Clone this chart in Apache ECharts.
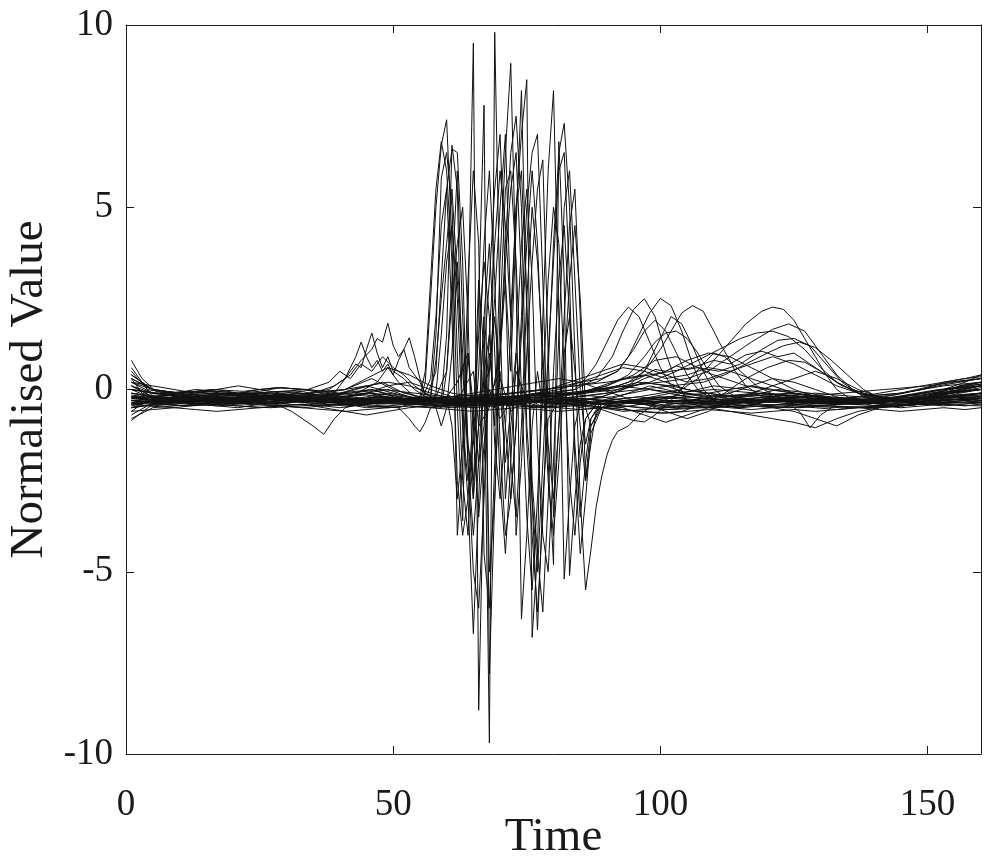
<!DOCTYPE html>
<html>
<head>
<meta charset="utf-8">
<script src="https://cdn.jsdelivr.net/npm/echarts@6/dist/echarts.min.js"></script>
<style>
  html, body { margin: 0; padding: 0; background: #fff; }
  #chart { width: 1002px; height: 860px; }
</style>
</head>
<body>
<div id="chart"></div>
<script>
// time grid shared by the quiet traces
const tQuiet = [1, 5, 9, 13, 17, 21, 25, 29, 33, 37, 41, 45, 49, 53, 57, 61, 65, 69, 73, 77,
  81, 85, 89, 93, 97, 101, 105, 109, 113, 117, 121, 125, 129, 133, 137, 141, 145, 149, 153, 157, 160];

// quiet traces, one value per tQuiet entry
const q01 = [0.6, -0.2, -0.3, -0.25, -0.3, -0.2, -0.25, -0.3, -0.35, -0.3, -0.2, -0.1, 0.0, -0.2, -0.3, -0.35, -0.3, -0.4, -0.35, -0.3,
  -0.2, -0.1, 0.1, 0.3, 0.4, 0.2, 0.0, -0.1, -0.2, -0.3, -0.25, -0.3, -0.35, -0.3, -0.4, -0.3, -0.2, -0.1, 0.0, 0.1, 0.2];
const q02 = [-0.8, -0.5, -0.45, -0.4, -0.45, -0.5, -0.4, -0.45, -0.5, -0.45, -0.4, -0.45, -0.5, -0.45, -0.5, -0.45, -0.5, -0.45, -0.4, -0.45,
  -0.5, -0.55, -0.5, -0.45, -0.5, -0.55, -0.5, -0.45, -0.5, -0.55, -0.5, -0.45, -0.5, -0.55, -0.5, -0.45, -0.5, -0.45, -0.4, -0.45, -0.4];
const q03 = [0.3, 0.0, -0.1, -0.05, 0.0, -0.1, -0.05, 0.05, 0.0, -0.1, -0.15, -0.1, -0.2, -0.3, -0.25, -0.2, -0.3, -0.25, -0.2, -0.1,
  0.0, 0.2, 0.4, 0.6, 0.5, 0.3, 0.4, 0.6, 0.5, 0.3, 0.1, -0.1, -0.2, -0.3, -0.2, -0.1, 0.0, 0.1, 0.2, 0.3, 0.35];
const q04 = [-0.3, -0.35, -0.3, -0.4, -0.35, -0.3, -0.35, -0.4, -0.3, -0.35, -0.3, -0.25, -0.3, -0.35, -0.4, -0.45, -0.4, -0.35, -0.3, -0.35,
  -0.4, -0.35, -0.3, -0.35, -0.4, -0.3, -0.35, -0.4, -0.35, -0.3, -0.35, -0.4, -0.45, -0.4, -0.35, -0.4, -0.45, -0.4, -0.35, -0.3, -0.35];
const q05 = [0.2, 0.1, 0.0, -0.1, 0.0, 0.1, 0.0, -0.1, -0.2, -0.1, 0.0, 0.3, 0.6, 0.4, 0.1, -0.1, -0.2, -0.3, -0.2, -0.1,
  -0.2, -0.3, -0.2, 0.0, 0.3, 0.5, 0.8, 1.0, 0.9, 0.6, 0.3, 0.0, -0.2, -0.3, -0.4, -0.3, -0.2, -0.1, 0.0, 0.2, 0.4];
const q06 = [-0.6, -0.55, -0.5, -0.55, -0.6, -0.55, -0.5, -0.45, -0.5, -0.55, -0.6, -0.55, -0.5, -0.45, -0.5, -0.55, -0.6, -0.55, -0.5, -0.55,
  -0.6, -0.55, -0.5, -0.55, -0.6, -0.65, -0.6, -0.55, -0.6, -0.65, -0.6, -0.55, -0.6, -0.55, -0.5, -0.55, -0.6, -0.55, -0.5, -0.55, -0.5];
const q07 = [0.0, -0.1, -0.15, -0.1, -0.05, -0.1, -0.15, -0.1, -0.05, -0.2, -0.3, -0.2, -0.1, -0.2, -0.3, -0.2, -0.1, 0.0, 0.1, 0.2,
  0.3, 0.2, 0.0, -0.2, -0.4, -0.6, -0.8, -0.6, -0.3, -0.1, 0.1, 0.3, 0.5, 0.3, 0.0, -0.2, -0.3, -0.2, -0.1, 0.0, 0.1];
const q08 = [-0.5, -0.3, -0.2, -0.3, -0.2, -0.25, -0.2, -0.15, -0.2, -0.25, -0.2, -0.15, -0.25, -0.3, -0.25, -0.2, -0.25, -0.3, -0.2, -0.15,
  -0.1, -0.15, -0.2, -0.3, -0.25, -0.2, -0.15, -0.1, 0.0, 0.1, 0.0, -0.1, -0.2, -0.25, -0.3, -0.25, -0.2, -0.1, 0.0, 0.1, 0.15];
const q09 = [-0.4, -0.45, -0.4, -0.35, -0.4, -0.45, -0.5, -0.45, -0.4, -0.5, -0.6, -0.7, -0.6, -0.5, -0.45, -0.4, -0.45, -0.4, -0.35, -0.3,
  -0.25, -0.3, -0.4, -0.5, -0.7, -0.9, -0.7, -0.5, -0.4, -0.45, -0.5, -0.6, -0.8, -1.0, -0.7, -0.5, -0.45, -0.4, -0.35, -0.3, -0.25];
const q10 = [0.4, 0.0, -0.2, -0.25, -0.2, -0.15, -0.1, -0.15, -0.2, -0.25, -0.2, -0.1, 0.1, 0.2, 0.0, -0.2, -0.3, -0.25, -0.2, -0.1,
  0.1, 0.3, 0.5, 0.7, 0.6, 0.4, 0.2, 0.3, 0.5, 0.7, 0.9, 0.7, 0.4, 0.1, -0.1, -0.2, -0.3, -0.25, -0.15, -0.05, 0.0];
const q11 = [-0.2, -0.35, -0.3, -0.25, -0.3, -0.35, -0.3, -0.25, -0.3, -0.35, -0.4, -0.35, -0.3, -0.25, -0.2, -0.25, -0.3, -0.35, -0.4, -0.35,
  -0.3, -0.25, -0.3, -0.35, -0.3, -0.25, -0.2, -0.25, -0.3, -0.35, -0.3, -0.25, -0.3, -0.35, -0.4, -0.35, -0.3, -0.25, -0.2, -0.15, -0.1];
const q12 = [-0.85, -0.4, -0.35, -0.4, -0.45, -0.4, -0.35, -0.3, -0.35, -0.4, -0.45, -0.4, -0.35, -0.3, -0.35, -0.4, -0.35, -0.3, -0.25, -0.3,
  -0.35, -0.3, -0.2, 0.0, 0.2, 0.1, -0.1, -0.2, -0.1, 0.1, 0.3, 0.2, 0.0, -0.2, -0.35, -0.4, -0.45, -0.4, -0.35, -0.3, -0.35];
const q13 = [0.1, -0.2, -0.1, 0.0, -0.05, -0.1, 0.0, 0.05, 0.0, -0.05, 0.0, 0.1, 0.2, 0.1, -0.1, -0.25, -0.3, -0.25, -0.2, -0.15,
  -0.2, -0.25, -0.3, -0.35, -0.4, -0.35, -0.3, -0.25, -0.2, -0.15, -0.2, -0.25, -0.3, -0.25, -0.2, -0.15, -0.1, 0.0, 0.2, 0.3, 0.4];
const q14 = [-0.5, -0.4, -0.35, -0.3, -0.35, -0.3, -0.2, -0.15, -0.2, -0.3, -0.4, -0.5, -0.45, -0.4, -0.45, -0.5, -0.45, -0.4, -0.45, -0.5,
  -0.45, -0.4, -0.5, -0.6, -0.55, -0.5, -0.45, -0.5, -0.6, -0.7, -0.8, -0.9, -1.05, -0.8, -0.6, -0.5, -0.45, -0.4, -0.45, -0.4, -0.35];

// traces with the big swing between t=55 and t=90, [time, value]
const w01 = [[1,-0.4],[4,-0.2],[8,-0.35],[13,-0.25],[18,-0.4],[24,-0.3],[30,-0.2],[36,-0.35],[42,-0.25],[47,-0.4],[51,-0.3],[55,-0.3],[56,0.2],[57,2.5],[58,5.0],[59,6.7],[60,7.4],[61,4.0],[62,-0.5],[63,-3.6],[64,2.0],[65,9.5],[66,-8.8],[67,-2.0],[68,1.0],[69,-0.5],[70,0.3],[72,-0.6],[75,-0.2],[78,-0.5],[82,-0.3],[88,-0.4],[94,-0.3],[100,-0.45],[107,-0.3],[114,-0.4],[121,-0.25],[128,-0.4],[136,-0.3],[144,-0.45],[152,-0.3],[160,-0.2]];
const w02 = [[1,0.3],[3,-0.1],[7,-0.3],[12,-0.2],[17,-0.3],[23,-0.15],[29,-0.25],[35,-0.3],[41,-0.2],[46,-0.1],[50,-0.3],[55,-0.4],[57,-0.2],[58,1.5],[59,5.8],[60,6.5],[61,5.0],[62,1.0],[63,-2.5],[64,-4.0],[65,-1.0],[66,3.0],[67,1.0],[68,-9.7],[69,9.8],[70,2.0],[71,-3.0],[72,-1.0],[73,0.5],[75,-0.3],[80,-0.4],[86,-0.3],[92,-0.5],[99,-0.35],[106,-0.4],[113,-0.3],[120,-0.45],[127,-0.35],[134,-0.4],[142,-0.3],[150,-0.35],[157,-0.25],[160,-0.3]];
const w03 = [[1,-0.2],[5,-0.3],[10,-0.25],[15,-0.35],[21,-0.3],[27,-0.4],[33,-0.3],[39,-0.25],[44,-0.35],[50,-0.3],[55,-0.3],[58,-0.2],[60,0.5],[61,3.0],[62,6.0],[63,2.0],[64,-1.5],[65,-3.0],[66,2.5],[67,7.8],[68,-7.8],[69,-3.0],[70,1.0],[71,3.0],[72,0.5],[73,4.5],[74,8.2],[75,2.0],[76,-3.0],[77,-6.6],[78,-3.0],[79,-0.8],[81,-0.3],[85,-0.5],[90,-0.3],[96,-0.2],[103,-0.35],[110,-0.2],[118,-0.1],[126,-0.3],[134,-0.25],[142,-0.35],[150,-0.2],[160,-0.1]];
const w04 = [[1,0.5],[4,0.0],[8,-0.1],[14,-0.2],[20,-0.1],[26,-0.2],[32,-0.1],[38,-0.2],[43,0.0],[48,0.2],[52,-0.1],[55,-0.2],[59,-0.3],[60,1.5],[61,6.7],[62,5.5],[63,-1.0],[64,-3.0],[65,-6.7],[66,-3.0],[67,0.5],[68,1.5],[69,-1.0],[70,3.5],[71,6.5],[72,8.95],[73,3.0],[74,-6.3],[75,-4.0],[76,-1.0],[77,0.5],[78,-0.5],[80,-0.2],[86,-0.4],[92,-0.2],[98,0.1],[104,-0.1],[112,-0.3],[120,-0.2],[128,-0.35],[136,-0.3],[144,-0.2],[152,0.0],[160,0.1]];
const w05 = [[1,-0.5],[6,-0.4],[11,-0.45],[16,-0.35],[22,-0.4],[28,-0.45],[34,-0.4],[40,-0.5],[45,-0.4],[50,-0.35],[55,-0.3],[60,-0.2],[62,0.2],[64,1.0],[65,-0.5],[66,-2.0],[67,-1.0],[68,1.5],[69,4.0],[70,6.0],[71,4.5],[72,2.0],[73,5.0],[74,7.0],[75,8.5],[76,-6.8],[77,-4.5],[78,2.0],[79,6.0],[80,8.2],[81,2.0],[82,-5.2],[83,-3.0],[84,-1.0],[85,-0.4],[90,-0.3],[96,-0.4],[103,-0.5],[110,-0.4],[118,-0.45],[126,-0.5],[134,-0.4],[142,-0.45],[150,-0.4],[160,-0.35]];
const w06 = [[1,0.1],[5,-0.2],[10,-0.15],[15,-0.25],[20,-0.2],[26,-0.3],[32,-0.2],[38,-0.25],[44,-0.3],[50,-0.4],[55,-0.4],[62,-0.3],[65,0.5],[66,-1.0],[68,-0.5],[70,1.0],[71,3.5],[72,5.5],[73,6.5],[74,3.0],[75,-1.5],[76,-4.0],[77,-6.1],[78,-3.5],[79,0.5],[80,4.0],[81,6.5],[82,7.3],[83,5.0],[84,1.0],[85,-3.0],[86,-5.5],[87,-4.4],[88,-3.2],[89,-2.4],[90,-1.8],[91,-1.4],[92,-1.15],[94,-1.0],[96,-0.7],[99,-0.4],[104,-0.1],[110,0.1],[116,0.0],[124,-0.2],[132,-0.3],[140,-0.35],[148,-0.3],[156,-0.2],[160,-0.2]];
const w07 = [[1,-0.6],[4,-0.3],[9,-0.4],[14,-0.3],[19,-0.35],[25,-0.25],[31,-0.3],[37,-0.2],[43,-0.3],[49,-0.25],[53,-0.3],[55,-0.2],[56,0.5],[57,3.0],[58,5.5],[59,6.8],[60,6.0],[61,3.5],[62,-4.0],[63,-2.0],[64,1.0],[65,-1.0],[66,-3.5],[67,-1.5],[68,0.0],[70,-0.8],[72,-0.3],[76,-0.5],[82,-0.3],[90,-0.4],[97,-0.3],[104,-0.4],[112,-0.25],[120,-0.35],[128,-0.3],[137,-0.4],[146,-0.3],[154,-0.2],[160,-0.25]];
const w08 = [[1,0.2],[5,0.0],[10,-0.1],[15,-0.05],[21,-0.15],[27,-0.1],[33,-0.2],[39,-0.15],[45,-0.3],[51,-0.35],[56,-0.3],[58,0.5],[59,3.0],[60,5.5],[61,6.6],[62,6.5],[63,3.5],[64,-2.0],[65,-5.0],[66,-6.0],[67,-3.0],[68,0.5],[69,2.0],[70,0.0],[71,-2.0],[72,-0.5],[73,1.0],[74,-0.3],[78,-0.5],[84,-0.3],[91,-0.2],[98,0.0],[105,-0.2],[113,-0.3],[121,-0.2],[129,-0.1],[137,-0.2],[145,-0.1],[153,0.1],[160,0.2]];
const w09 = [[1,-0.3],[6,-0.35],[12,-0.3],[18,-0.25],[24,-0.35],[30,-0.3],[36,-0.4],[42,-0.3],[48,-0.35],[55,-0.3],[65,-0.4],[68,-0.2],[70,0.5],[71,-1.0],[72,-3.0],[73,-1.0],[74,2.0],[75,5.0],[76,6.5],[77,7.0],[78,3.0],[79,-2.0],[80,-4.8],[81,6.8],[82,3.0],[83,-5.1],[84,-3.0],[85,-1.5],[86,-0.8],[88,-0.4],[94,-0.3],[100,-0.5],[107,-0.4],[115,-0.5],[123,-0.4],[131,-0.45],[139,-0.5],[147,-0.4],[155,-0.35],[160,-0.4]];
const w10 = [[1,0.0],[5,-0.25],[11,-0.2],[17,-0.3],[23,-0.25],[29,-0.2],[35,-0.3],[41,-0.35],[47,-0.25],[52,-0.3],[55,-0.3],[62,-0.4],[66,-0.2],[68,0.5],[69,2.5],[70,5.0],[71,7.0],[72,2.0],[73,-4.0],[74,-2.0],[75,1.0],[76,3.5],[77,5.5],[78,6.3],[79,1.0],[80,-3.5],[81,-1.0],[82,2.0],[83,4.5],[84,5.5],[85,2.0],[86,-2.5],[87,-1.0],[89,-0.4],[95,-0.3],[102,-0.2],[110,-0.35],[118,-0.3],[126,-0.2],[134,-0.3],[142,-0.25],[150,-0.1],[160,0.0]];
const w11 = [[1,-0.7],[4,-0.45],[9,-0.5],[15,-0.4],[21,-0.45],[27,-0.5],[33,-0.45],[39,-0.4],[45,-0.45],[51,-0.5],[55,-0.3],[60,-0.2],[61,-1.0],[62,-3.0],[63,-1.5],[64,3.0],[65,6.0],[66,4.0],[67,-4.5],[68,-6.0],[69,-2.0],[70,2.0],[71,5.5],[72,6.0],[73,3.5],[74,0.0],[75,-3.5],[76,-5.5],[77,-3.0],[78,0.0],[79,3.0],[80,5.0],[81,4.0],[82,0.5],[83,-2.5],[84,-4.0],[85,-2.0],[86,-0.8],[88,-0.4],[95,-0.3],[102,-0.45],[110,-0.5],[118,-0.4],[126,-0.45],[134,-0.5],[142,-0.45],[150,-0.4],[160,-0.45]];
const w12 = [[1,0.4],[5,0.0],[10,-0.1],[16,0.0],[22,-0.05],[28,0.05],[34,0.0],[40,-0.1],[46,0.0],[51,-0.2],[55,-0.4],[57,0.3],[58,2.0],[59,4.5],[60,5.5],[61,2.0],[62,-2.5],[63,-4.0],[64,-3.0],[65,-0.5],[66,1.5],[67,3.5],[68,2.0],[69,-1.5],[70,-3.0],[71,-1.0],[72,1.5],[73,5.0],[74,6.0],[75,2.5],[76,-2.5],[77,-4.5],[78,-6.1],[79,-3.0],[80,0.5],[81,3.0],[82,4.5],[83,2.0],[84,-1.5],[85,-3.5],[86,-2.0],[87,-0.8],[89,-0.4],[95,-0.3],[102,-0.1],[110,0.0],[118,-0.1],[126,-0.2],[134,-0.1],[142,0.0],[150,0.1],[160,0.3]];
const w13 = [[1,-0.2],[6,-0.3],[12,-0.35],[18,-0.3],[24,-0.4],[30,-0.35],[36,-0.3],[42,-0.4],[48,-0.35],[53,-0.3],[56,-0.3],[59,-0.5],[60,0.5],[61,2.5],[62,4.0],[63,5.0],[64,2.0],[65,-3.0],[66,-1.0],[67,2.0],[68,4.0],[69,1.0],[70,-2.5],[71,-4.5],[72,-2.0],[73,1.0],[74,4.0],[75,5.5],[76,3.0],[77,-1.5],[78,-4.0],[79,-5.0],[80,-2.0],[81,1.5],[82,5.0],[83,6.0],[84,3.0],[85,0.0],[86,-1.5],[87,-0.8],[89,-0.3],[96,-0.4],[104,-0.3],[112,-0.35],[120,-0.3],[128,-0.4],[136,-0.35],[144,-0.3],[152,-0.25],[160,-0.3]];
const w14 = [[1,-0.1],[5,-0.2],[11,-0.3],[17,-0.2],[23,-0.3],[29,-0.25],[35,-0.35],[41,-0.3],[47,-0.2],[52,-0.25],[55,-0.2],[58,-0.5],[59,-1.0],[60,-0.5],[61,1.0],[62,3.5],[63,1.0],[64,-2.0],[65,-4.0],[66,-2.0],[67,1.0],[68,3.0],[69,5.5],[70,7.0],[71,3.0],[72,-2.0],[73,-3.5],[74,-1.0],[75,2.5],[76,5.0],[77,3.5],[78,1.0],[79,-1.5],[80,-3.0],[81,-1.0],[82,1.0],[83,2.0],[84,0.5],[85,-1.0],[86,-2.5],[87,-1.5],[88,-0.6],[90,-0.4],[97,-0.3],[105,-0.2],[113,-0.3],[121,-0.25],[129,-0.35],[137,-0.3],[145,-0.2],[153,-0.1],[160,0.0]];
const w15 = [[1,-0.35],[7,-0.3],[14,-0.4],[21,-0.3],[28,-0.35],[35,-0.3],[42,-0.4],[49,-0.3],[55,-0.35],[57,-0.2],[58,0.8],[59,2.5],[60,4.0],[61,5.5],[62,3.0],[63,0.5],[64,-1.5],[65,-2.5],[66,-1.0],[67,2.0],[68,-5.0],[69,-3.0],[70,1.0],[71,4.0],[72,6.5],[73,7.5],[74,5.0],[75,-1.0],[76,-3.0],[77,-5.0],[78,-2.0],[79,1.0],[80,3.5],[81,6.0],[82,6.5],[83,3.0],[84,-2.0],[85,-4.5],[86,-3.0],[87,-1.2],[89,-0.5],[95,-0.35],[103,-0.3],[111,-0.4],[119,-0.3],[127,-0.35],[135,-0.3],[143,-0.4],[151,-0.3],[160,-0.25]];
const w16 = [[1,-0.15],[6,-0.25],[13,-0.2],[20,-0.3],[27,-0.2],[34,-0.25],[41,-0.3],[48,-0.2],[54,-0.3],[57,-0.4],[58,-0.1],[59,1.5],[60,3.5],[61,4.5],[62,2.5],[63,-1.0],[64,-2.5],[65,-1.5],[66,0.5],[67,4.0],[68,6.0],[69,3.0],[70,-1.5],[71,-4.0],[72,-3.0],[73,-1.0],[74,1.5],[75,4.0],[76,6.0],[77,4.0],[78,0.5],[79,-2.5],[80,-4.0],[81,-2.0],[82,0.5],[83,3.0],[84,4.5],[85,2.5],[86,-0.5],[87,-1.0],[89,-0.5],[96,-0.3],[104,-0.4],[112,-0.3],[120,-0.35],[128,-0.3],[136,-0.25],[144,-0.3],[152,-0.2],[160,-0.15]];

// traces with the later humps (t=90..135), [time, value]
const h01 = [[1,-0.1],[5,-0.2],[10,-0.15],[16,-0.25],[22,-0.2],[28,-0.3],[34,-0.2],[40,-0.1],[45,0.1],[50,-0.1],[56,-0.3],[62,-0.4],[68,-0.3],[74,-0.2],[80,-0.1],[84,0.0],[86,0.3],[88,0.7],[90,1.3],[92,1.9],[94,2.26],[96,2.0],[98,1.3],[100,0.6],[102,0.1],[105,-0.2],[110,-0.3],[116,-0.2],[122,0.0],[128,-0.1],[134,-0.3],[140,-0.35],[146,-0.3],[152,-0.2],[156,0.0],[160,0.1]];
const h02 = [[1,-0.3],[6,-0.35],[12,-0.3],[18,-0.35],[24,-0.3],[30,-0.25],[36,-0.3],[42,-0.2],[47,0.2],[49,0.6],[51,0.2],[54,-0.2],[60,-0.4],[66,-0.3],[72,-0.2],[78,-0.1],[84,0.0],[88,0.3],[91,0.9],[93,1.6],[95,2.2],[97,2.49],[99,2.0],[101,1.0],[103,0.2],[105,-0.3],[108,-0.5],[112,-0.4],[118,-0.3],[124,-0.1],[130,-0.2],[136,-0.35],[142,-0.3],[148,-0.2],[154,0.0],[160,0.1]];
const h03 = [[1,0.0],[5,-0.1],[11,-0.15],[17,-0.1],[23,-0.2],[29,-0.15],[35,-0.1],[41,0.0],[46,0.3],[50,0.0],[55,-0.2],[61,-0.3],[67,-0.2],[73,-0.1],[79,0.0],[85,0.2],[89,0.3],[92,0.5],[94,0.9],[96,1.5],[98,2.1],[100,2.5],[102,2.3],[104,1.6],[106,0.7],[108,0.0],[111,-0.4],[115,-0.5],[120,-0.3],[126,-0.2],[132,-0.3],[138,-0.4],[144,-0.3],[150,-0.2],[156,0.1],[160,0.2]];
const h04 = [[1,-0.2],[6,-0.3],[12,-0.25],[18,-0.3],[24,-0.2],[30,-0.25],[36,-0.3],[42,-0.25],[48,-0.3],[54,-0.35],[60,-0.3],[66,-0.25],[72,-0.2],[78,-0.1],[84,-0.1],[90,0.0],[94,0.2],[97,0.5],[100,1.1],[102,1.6],[104,2.1],[106,2.3],[108,2.15],[110,1.6],[111,1.3],[113,0.8],[114,0.5],[116,0.1],[119,-0.2],[124,-0.35],[130,-0.3],[136,-0.4],[142,-0.35],[148,-0.3],[154,-0.1],[160,0.0]];
const h05 = [[1,-0.4],[6,-0.3],[12,-0.35],[18,-0.25],[24,-0.3],[30,-0.35],[36,-0.3],[42,-0.25],[48,-0.3],[54,-0.4],[60,-0.45],[66,-0.4],[72,-0.35],[78,-0.3],[84,-0.25],[90,-0.3],[96,-0.2],[100,-0.1],[104,0.0],[107,0.3],[110,0.8],[113,1.3],[116,1.8],[119,2.15],[121,2.26],[123,2.2],[125,1.9],[127,1.4],[129,0.9],[131,0.4],[133,0.0],[136,-0.3],[140,-0.45],[146,-0.4],[152,-0.3],[160,-0.25]];
const h06 = [[1,0.2],[5,-0.1],[10,-0.2],[16,-0.15],[22,-0.1],[28,-0.2],[34,-0.15],[40,-0.2],[46,-0.1],[52,-0.2],[58,-0.3],[64,-0.25],[70,-0.2],[76,-0.15],[82,-0.1],[88,0.0],[94,0.1],[100,0.2],[105,0.3],[109,0.5],[113,0.9],[117,1.3],[121,1.65],[124,1.8],[127,1.6],[130,1.0],[133,0.4],[136,0.0],[140,-0.2],[146,-0.3],[152,-0.2],[156,0.1],[160,0.2]];
const h07 = [[1,-0.3],[6,-0.25],[12,-0.3],[18,-0.2],[24,-0.25],[30,-0.3],[36,-0.2],[42,-0.1],[46,0.0],[50,-0.2],[56,-0.35],[62,-0.3],[68,-0.25],[74,-0.2],[80,-0.15],[86,-0.1],[92,0.0],[98,0.2],[103,0.5],[107,0.8],[111,1.1],[115,1.4],[118,1.55],[121,1.6],[124,1.45],[127,1.1],[130,0.6],[133,0.2],[137,-0.1],[142,-0.3],[148,-0.35],[154,-0.2],[160,-0.1]];
const h08 = [[1,-0.5],[6,-0.4],[12,-0.45],[18,-0.4],[24,-0.35],[30,-0.4],[36,-0.45],[42,-0.4],[48,-0.35],[54,-0.4],[60,-0.45],[66,-0.4],[72,-0.35],[78,-0.3],[84,-0.2],[90,-0.1],[96,0.0],[102,0.1],[108,0.2],[112,0.4],[116,0.7],[120,1.0],[123,1.2],[126,1.3],[129,1.15],[132,0.8],[135,0.4],[138,0.0],[142,-0.3],[148,-0.4],[154,-0.3],[160,-0.2]];
const h09 = [[1,-0.2],[6,-0.15],[12,-0.2],[18,-0.1],[24,-0.15],[30,-0.2],[36,-0.15],[42,-0.2],[48,-0.3],[54,-0.25],[60,-0.3],[66,-0.2],[72,-0.1],[78,0.0],[84,0.1],[88,0.2],[92,0.5],[95,1.1],[97,1.6],[99,1.9],[101,1.6],[103,1.0],[105,0.4],[107,0.0],[110,-0.3],[114,-0.5],[118,-0.4],[124,-0.2],[130,-0.25],[136,-0.3],[142,-0.2],[148,0.0],[154,0.2],[160,0.3]];
const h10 = [[1,0.3],[5,0.0],[10,-0.1],[16,-0.2],[22,-0.15],[28,-0.2],[34,-0.3],[40,-0.35],[46,-0.3],[52,-0.25],[58,-0.3],[64,-0.35],[70,-0.3],[76,-0.35],[82,-0.4],[88,-0.5],[92,-0.7],[95,-0.85],[97,-0.89],[99,-0.7],[102,-0.3],[105,0.2],[108,0.7],[110,1.0],[112,0.9],[115,0.5],[118,0.1],[122,-0.2],[126,-0.6],[128,-1.05],[130,-0.7],[133,-0.4],[138,-0.3],[144,-0.35],[150,-0.2],[156,0.0],[160,0.1]];
const h11 = [[1,-0.1],[6,-0.2],[12,-0.3],[18,-0.25],[24,-0.3],[30,-0.2],[36,-0.25],[42,-0.3],[48,-0.2],[54,-0.3],[60,-0.35],[66,-0.3],[72,-0.25],[78,-0.2],[84,-0.1],[90,0.1],[95,0.4],[99,0.8],[103,0.9],[107,0.6],[111,0.5],[115,0.7],[119,1.1],[122,1.35],[125,1.4],[128,1.2],[131,0.7],[134,0.2],[138,-0.2],[144,-0.35],[150,-0.3],[156,-0.1],[160,0.0]];
const h12 = [[1,-0.4],[6,-0.35],[12,-0.3],[18,-0.35],[24,-0.4],[30,-0.35],[36,-0.3],[42,-0.35],[48,-0.4],[54,-0.35],[60,-0.3],[66,-0.35],[72,-0.3],[78,-0.2],[84,-0.1],[88,0.0],[92,0.1],[96,0.3],[99,0.55],[101,0.5],[103,0.65],[105,0.55],[107,0.6],[109,0.45],[112,0.3],[116,0.1],[120,0.0],[125,-0.1],[130,-0.2],[136,-0.3],[142,-0.4],[148,-0.35],[154,-0.2],[160,-0.1]];
const h13 = [[1,-0.25],[7,-0.3],[13,-0.2],[19,-0.3],[25,-0.25],[31,-0.3],[37,-0.35],[43,-0.3],[49,-0.25],[55,-0.3],[61,-0.35],[67,-0.3],[73,-0.25],[79,-0.2],[85,-0.1],[90,0.1],[94,0.4],[97,0.9],[99,1.3],[101,1.55],[103,1.6],[105,1.4],[107,1.0],[109,0.5],[111,0.1],[114,-0.2],[118,-0.3],[124,-0.25],[130,-0.3],[136,-0.35],[142,-0.3],[148,-0.25],[154,-0.1],[160,0.0]];
const h14 = [[1,-0.35],[7,-0.4],[14,-0.3],[21,-0.35],[28,-0.4],[35,-0.3],[42,-0.35],[49,-0.3],[55,-0.4],[61,-0.35],[67,-0.3],[73,-0.35],[79,-0.25],[85,-0.2],[90,-0.1],[94,0.1],[97,0.5],[99,1.1],[101,1.7],[102,2.0],[104,1.8],[106,1.2],[108,0.5],[110,0.0],[113,-0.3],[117,-0.4],[122,-0.3],[128,-0.35],[134,-0.4],[140,-0.35],[146,-0.3],[152,-0.15],[160,0.05]];
const h15 = [[1,-0.25],[6,-0.2],[12,-0.25],[18,-0.15],[24,-0.2],[30,-0.25],[36,-0.2],[42,-0.3],[48,-0.2],[54,-0.25],[60,-0.2],[66,-0.15],[72,-0.1],[78,0.0],[84,0.1],[90,0.2],[96,0.35],[102,0.5],[106,0.6],[110,0.8],[113,0.7],[116,0.95],[119,1.05],[122,0.9],[125,1.0],[128,0.7],[131,0.4],[134,0.1],[138,-0.1],[143,-0.25],[148,-0.2],[154,0.0],[160,0.15]];
const h16 = [[1,0.0],[6,-0.1],[12,-0.05],[18,-0.15],[24,-0.1],[30,-0.05],[36,-0.15],[42,-0.1],[48,0.0],[54,-0.1],[60,-0.2],[66,-0.15],[72,-0.2],[78,-0.3],[84,-0.4],[90,-0.5],[96,-0.6],[100,-0.65],[104,-0.6],[108,-0.4],[112,-0.1],[116,0.3],[120,0.6],[124,0.8],[127,0.75],[130,0.5],[133,0.2],[137,-0.1],[142,-0.3],[148,-0.35],[154,-0.25],[160,-0.1]];

// traces with small bumps or dips before the swing, [time, value]
const c01 = [[1,-0.2],[6,-0.25],[12,-0.2],[18,-0.3],[24,-0.25],[30,-0.2],[35,-0.1],[39,0.1],[42,0.4],[44,0.8],[46,1.1],[47,1.4],[48,1.3],[49,1.82],[50,1.2],[51,0.9],[52,1.1],[53,0.6],[54,0.4],[55,0.2],[56,-0.1],[58,-0.3],[64,-0.4],[70,-0.35],[76,-0.3],[82,-0.4],[88,-0.35],[94,-0.3],[100,-0.2],[106,-0.3],[114,-0.35],[122,-0.3],[130,-0.4],[138,-0.35],[146,-0.3],[154,-0.2],[160,-0.15]];
const c02 = [[1,0.1],[5,-0.1],[11,-0.15],[17,-0.1],[23,-0.2],[29,-0.15],[34,-0.1],[38,0.0],[41,0.3],[43,0.7],[44,0.6],[45,1.1],[46,1.55],[47,1.0],[48,0.6],[49,0.9],[50,0.5],[52,0.3],[54,0.0],[56,-0.2],[60,-0.3],[66,-0.2],[72,-0.25],[78,-0.2],[84,-0.1],[90,0.0],[96,0.2],[102,0.1],[108,-0.1],[116,-0.2],[124,-0.1],[132,-0.2],[140,-0.3],[148,-0.2],[156,0.0],[160,0.1]];
const c03 = [[1,-0.45],[6,-0.3],[12,-0.35],[18,-0.3],[24,-0.35],[30,-0.3],[36,-0.25],[39,-0.1],[41,0.3],[43,0.9],[44,1.3],[45,0.9],[46,0.6],[47,0.8],[48,0.5],[49,0.7],[50,0.4],[51,0.8],[52,1.1],[53,1.42],[54,0.9],[55,0.3],[56,-0.2],[58,-0.4],[64,-0.3],[70,-0.4],[76,-0.35],[82,-0.3],[88,-0.4],[94,-0.35],[102,-0.3],[110,-0.4],[118,-0.35],[126,-0.3],[134,-0.4],[142,-0.3],[150,-0.25],[160,-0.2]];
const c04 = [[1,-0.3],[6,-0.35],[12,-0.3],[18,-0.4],[24,-0.35],[28,-0.4],[31,-0.6],[33,-0.8],[35,-1.0],[37,-1.23],[39,-0.8],[41,-0.5],[44,-0.4],[48,-0.45],[51,-0.5],[53,-0.8],[54,-1.0],[55,-1.16],[56,-0.9],[57,-0.5],[60,-0.4],[66,-0.45],[72,-0.4],[78,-0.5],[84,-0.45],[90,-0.4],[96,-0.5],[102,-0.55],[108,-0.5],[116,-0.45],[124,-0.5],[132,-0.45],[140,-0.5],[148,-0.4],[156,-0.35],[160,-0.3]];
const c05 = [[1,0.8],[3,0.3],[6,-0.1],[11,-0.2],[17,-0.15],[23,-0.1],[29,-0.05],[34,0.0],[38,0.2],[40,0.5],[42,0.3],[44,0.7],[46,0.5],[48,0.9],[50,0.6],[52,0.4],[54,0.1],[57,-0.2],[62,-0.3],[68,-0.25],[74,-0.3],[80,-0.2],[86,-0.1],[92,0.1],[98,0.0],[104,-0.1],[112,-0.2],[120,-0.1],[128,-0.2],[136,-0.25],[144,-0.15],[152,0.1],[160,0.3]];

const xTicks = [0, 50, 100, 150];
const yTicks = [-10, -5, 0, 5, 10];

const quiet = [q01, q02, q03, q04, q05, q06, q07, q08, q09, q10, q11, q12, q13, q14];
const paired = [w01, w02, w03, w04, w05, w06, w07, w08, w09, w10, w11, w12, w13, w14, w15, w16,
  h01, h02, h03, h04, h05, h06, h07, h08, h09, h10, h11, h12, h13, h14, h15, h16,
  c01, c02, c03, c04, c05];

const traces = quiet.map(v => v.map((y, i) => [tQuiet[i], y])).concat(paired);

const FONT = "'Liberation Serif', 'Times New Roman', serif";
const INK = '#1a1a1a';

const myChart = echarts.init(document.getElementById('chart'), null, { renderer: 'canvas' });

const tickStyle = { inside: true, length: 8, lineStyle: { color: INK, width: 1 } };
const lineStyle = { show: true, onZero: false, lineStyle: { color: INK, width: 1 } };

const option = {
  animation: false,
  backgroundColor: '#fff',
  grid: { left: 126, right: 21, top: 25, bottom: 106, outerBoundsMode: 'none', containLabel: false },
  xAxis: [
    {
      type: 'value', min: 0, max: 160, interval: 50, position: 'bottom',
      axisLine: lineStyle, axisTick: tickStyle, splitLine: { show: false },
      axisLabel: {
        fontFamily: FONT, fontSize: 37, color: INK, margin: 33,
        formatter: v => (xTicks.includes(v) ? String(v) : '')
      },
      name: 'Time', nameLocation: 'middle', nameGap: 60, nameMoveOverlap: false,
      nameTextStyle: { fontFamily: FONT, fontSize: 47, color: INK }
    },
    {
      type: 'value', min: 0, max: 160, interval: 50, position: 'top',
      axisLine: lineStyle, axisTick: tickStyle, splitLine: { show: false },
      axisLabel: { show: false }
    }
  ],
  yAxis: [
    {
      type: 'value', min: -10, max: 10, interval: 5, position: 'left',
      axisLine: lineStyle, axisTick: tickStyle, splitLine: { show: false },
      axisLabel: {
        fontFamily: FONT, fontSize: 37, color: INK, margin: 13,
        formatter: v => (yTicks.includes(v) ? String(v) : '')
      },
      name: 'Normalised Value', nameLocation: 'middle', nameGap: 61,
      nameTextStyle: { fontFamily: FONT, fontSize: 47, color: INK }
    },
    {
      type: 'value', min: -10, max: 10, interval: 5, position: 'right',
      axisLine: lineStyle, axisTick: tickStyle, splitLine: { show: false },
      axisLabel: { show: false }
    }
  ],
  series: traces.map(d => ({
    type: 'line',
    data: d,
    symbol: 'none',
    silent: true,
    clip: true,
    lineStyle: { color: '#111', width: 1 }
  }))
};

myChart.setOption(option);
</script>
</body>
</html>
